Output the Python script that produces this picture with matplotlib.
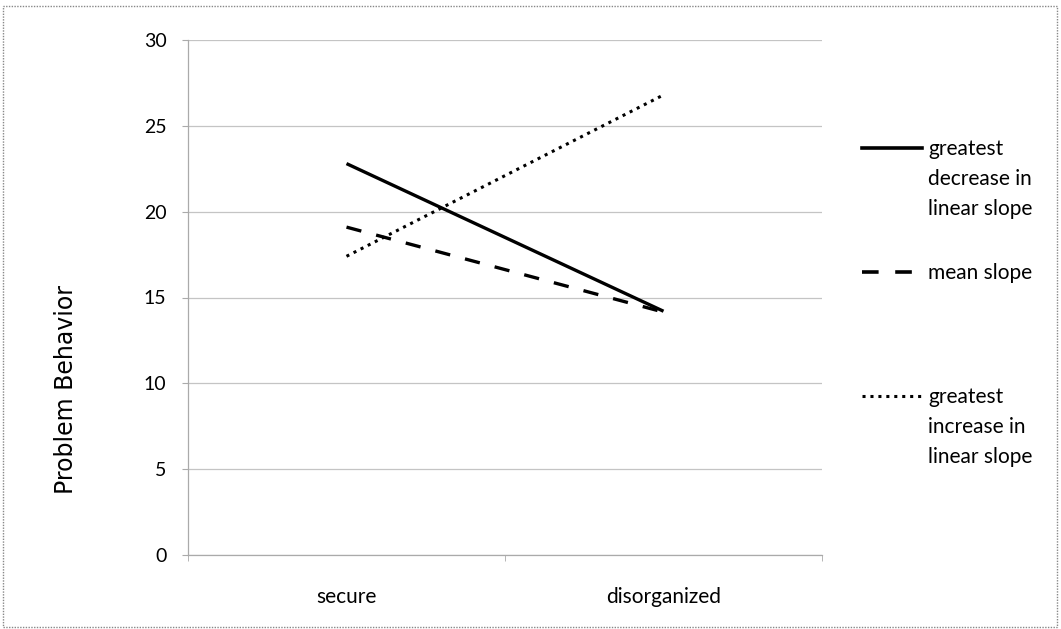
import matplotlib
matplotlib.use("Agg")
import matplotlib.pyplot as plt
from matplotlib.lines import Line2D
from matplotlib.patches import Rectangle

categories = ["secure", "disorganized"]
greatest_decrease = [22.8, 14.2]
mean_slope = [19.1, 14.15]
greatest_increase = [17.4, 26.8]
yticks = [0, 5, 10, 15, 20, 25, 30]
labels = ["greatest\ndecrease in\nlinear slope", "mean slope",
          "greatest\nincrease in\nlinear slope"]

plt.rcParams['font.family'] = ['Lato', 'DejaVu Sans']

fig = plt.figure(figsize=(10.61, 6.29), dpi=100)
ax = fig.add_axes([188/1061, 1-555/629, (822-188)/1061, (555-40)/629])

x = list(range(len(categories)))
ax.plot(x, greatest_decrease, color='black', lw=2.4, solid_capstyle='butt')
ax.plot(x, mean_slope, color='black', lw=2.4, linestyle=(0, (4.6, 4.6)))
ax.plot(x, greatest_increase, color='black', lw=2.2, linestyle=(0, (1, 1.6)))

ax.set_xlim(-0.5, 1.5)
ax.set_ylim(0, 30)
ax.set_yticks(yticks)
ax.set_xticks(x)
ax.set_xticklabels(categories, fontsize=15)
ax.tick_params(axis='x', length=0, pad=23)
ax.tick_params(axis='y', length=4.5, color='#aaaaaa', pad=11, labelsize=14)
ax.set_xticks([-0.5, 0.5, 1.5], minor=True)
ax.tick_params(axis='x', which='minor', length=4, color='#aaaaaa', direction='out')
ax.grid(axis='y', color='#c4c4c4', lw=0.9)
ax.set_axisbelow(True)
for s in ['top', 'right']:
    ax.spines[s].set_visible(False)
for s in ['left', 'bottom']:
    ax.spines[s].set_color('#aaaaaa')
    ax.spines[s].set_linewidth(0.9)

fig.text(66/1061, 1-390/629, "Problem Behavior", rotation=90, ha='center', va='center',
         fontsize=17, family='DejaVu Sans')

# custom legend
styles = [dict(lw=2.6, ls='-'), dict(lw=2.6, ls=(0, (4.6, 4.6))), dict(lw=2.2, ls=(0, (1, 1.6)))]
ys = [148, 272, 396]
for st, yy, lab in zip(styles, ys, labels):
    fy = 1 - yy/629
    fig.add_artist(Line2D([862/1061, 922/1061], [fy, fy], color='black',
                          linewidth=st['lw'], linestyle=st['ls'], transform=fig.transFigure))
    for i, line in enumerate(lab.split("\n")):
        fig.text(928/1061, 1 - (yy + 7 + 30*i)/629, line, ha='left', va='baseline',
                 fontsize=15)

fig.add_artist(Rectangle((3/1061, 2/629), 1054/1061, 621/629, transform=fig.transFigure,
                         fill=False, edgecolor='#888888', lw=1.0, linestyle=(0, (1, 1))))

fig.savefig("out.png", dpi=100)
